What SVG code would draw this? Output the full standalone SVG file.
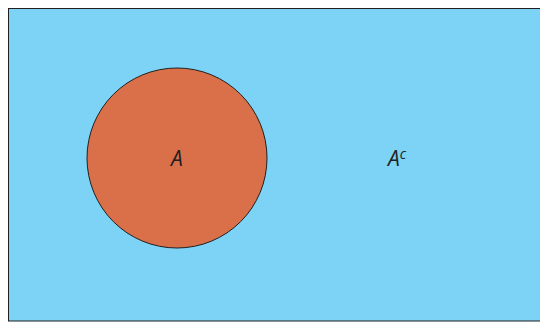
<svg xmlns="http://www.w3.org/2000/svg" width="540" height="322" viewBox="0 0 540 322">
<style>
.lbl{font-family:"Open Sans","Noto Sans",sans-serif;font-style:italic;font-size:21px;fill:#231f20}
</style>
<rect width="540" height="322" fill="#ffffff"/>
<g id="universe">
<rect x="8.5" y="8.5" width="540" height="312.5" fill="#7dd3f5" stroke="#231f20" stroke-width="1"/>
<text class="lbl" x="388" y="166">A<tspan font-size="14" dy="-7">c</tspan></text>
</g>
<g id="setA">
<circle cx="177" cy="158" r="90" fill="#d97049" stroke="#231f20" stroke-width="1"/>
<text class="lbl" x="177" y="166" text-anchor="middle">A</text>
</g>
<g id="connectors"></g>
</svg>
